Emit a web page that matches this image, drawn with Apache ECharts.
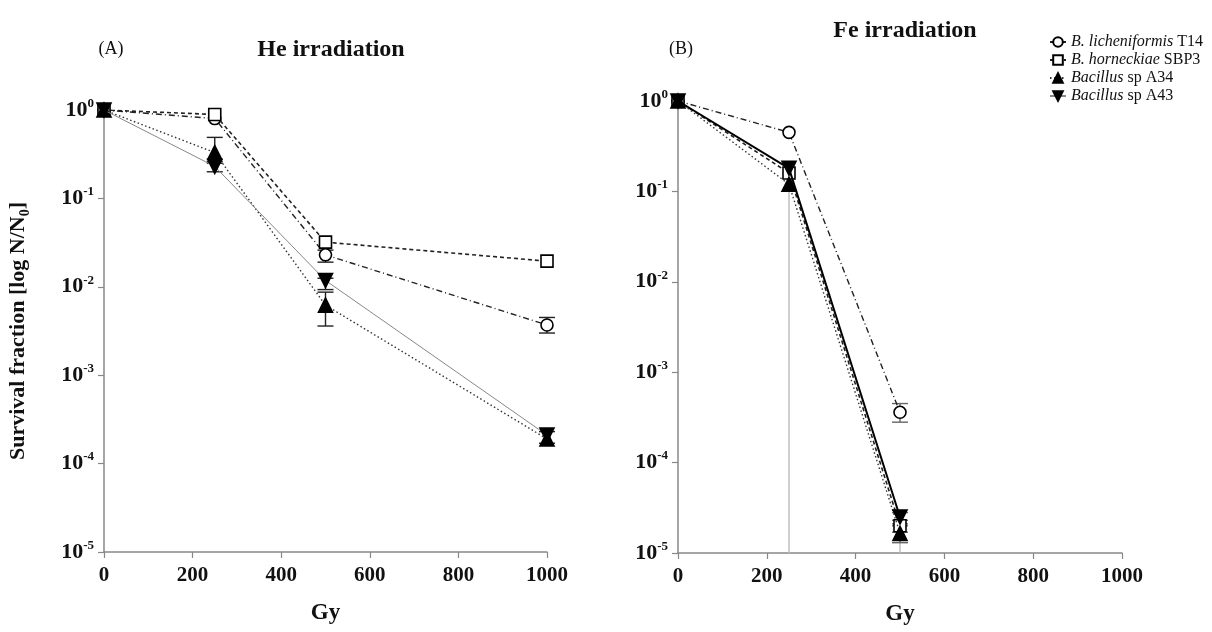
<!DOCTYPE html>
<html>
<head>
<meta charset="utf-8">
<script src="https://cdn.jsdelivr.net/npm/echarts@6/dist/echarts.min.js"></script>
<style>html,body{margin:0;padding:0;background:#fff}#c{width:1212px;height:632px}</style>
</head>
<body>
<div id="c"></div>
<script>
// ---------- data ----------
var names = ['B. licheniformis T14', 'B. horneckiae SBP3', 'Bacillus sp A34', 'Bacillus sp A43'];
var nameItalic = ['B. licheniformis', 'B. horneckiae', 'Bacillus', 'Bacillus'];
var nameRest = [' T14', ' SBP3', ' sp A34', ' sp A43'];
var xTicks = [0, 200, 400, 600, 800, 1000];

var heDose = [0, 250, 500, 1000];
var heT14  = [1.0, 0.80, 0.023, 0.0037];
var heSBP3 = [1.0, 0.89, 0.032, 0.0195];
var heA34  = [1.0, 0.33, 0.0062, 0.00019];
var heA43  = [1.0, 0.23, 0.0118, 0.00021];
// error bars [dose, low, high]
var heErr = [
  [500, 0.019, 0.026], [1000, 0.0030, 0.0045],
  [250, 0.25, 0.49], [500, 0.0036, 0.0087],
  [250, 0.20, 0.26], [500, 0.0093, 0.0125],
  [1000, 0.00017, 0.00023]
];

var feDose = [0, 250, 500];
var feT14  = [1.0, 0.45, 0.00036];
var feSBP3 = [1.0, 0.16, 2.0e-5];
var feA34  = [1.0, 0.12, 1.65e-5];
var feA43  = [1.0, 0.18, 2.5e-5];
var feErr = [
  [500, 0.00028, 0.00045],
  [500, 1.3e-5, 2.0e-5],
  [500, 2.1e-5, 2.8e-5],
  [500, 1.7e-5, 2.3e-5]
];
var feDrop = [[250, 1e-5, 0.12], [500, 1e-5, 1.3e-5]];

// ---------- styles ----------
var SERIF = 'Liberation Serif';
var downTri = 'path://M0,0 L10,0 L5,9 Z';
var styles = [
  {symbol: 'circle', size: 12, fill: '#fff', type: [6, 3, 1, 3], w: 1.4, color: '#222'},
  {symbol: 'rect', size: 12, fill: '#fff', type: [4, 3], w: 1.6, color: '#222'},
  {symbol: 'triangle', size: 14, fill: '#000', type: [1.5, 2.5], w: 1.4, color: '#333'},
  {symbol: downTri, size: 14, fill: '#000', type: 'solid', w: 1, color: '#888'}
];

function pairs(xs, ys) { return xs.map(function (x, i) { return [x, ys[i]]; }); }

function lineSeries(idx, xs, ys, axisIdx, override) {
  var s = styles[idx];
  var o = override || {};
  return {
    name: names[idx], type: 'line', xAxisIndex: axisIdx, yAxisIndex: axisIdx,
    data: pairs(xs, ys), symbol: s.symbol, symbolSize: s.size, z: 3 + idx,
    itemStyle: {color: s.fill, borderColor: '#000', borderWidth: 1.6, opacity: 1},
    lineStyle: {color: o.color || s.color, width: o.w || s.w, type: s.type},
    emphasis: {disabled: true}, animation: false
  };
}

function errSeries(data, axisIdx, color, caps) {
  return {
    type: 'custom', xAxisIndex: axisIdx, yAxisIndex: axisIdx, data: data, z: 2, animation: false,
    renderItem: function (params, api) {
      var x = api.value(0), lo = api.value(1), hi = api.value(2);
      var p1 = api.coord([x, hi]), p2 = api.coord([x, lo]);
      var st = {stroke: color, lineWidth: 1.4};
      var ch = [{type: 'line', shape: {x1: p1[0], y1: p1[1], x2: p2[0], y2: p2[1]}, style: st}];
      if (caps) {
        ch.push({type: 'line', shape: {x1: p1[0] - 8, y1: p1[1], x2: p1[0] + 8, y2: p1[1]}, style: st});
        ch.push({type: 'line', shape: {x1: p2[0] - 8, y1: p2[1], x2: p2[0] + 8, y2: p2[1]}, style: st});
      }
      return {type: 'group', children: ch};
    }
  };
}

var supRich = {
  b: {fontFamily: SERIF, fontSize: 22, fontWeight: 'bold', color: '#111', lineHeight: 26},
  s: {fontFamily: SERIF, fontSize: 13, fontWeight: 'bold', color: '#111', verticalAlign: 'top'}
};
function yLabel(v) {
  var e = Math.round(Math.log(v) / Math.LN10);
  return '{b|10}{s|' + e + '}';
}

function xAxis(gridIdx) {
  return {
    type: 'value', gridIndex: gridIdx, min: 0, max: 1000, interval: 200,
    name: 'Gy', nameLocation: 'middle', nameGap: 50,
    nameTextStyle: {fontFamily: SERIF, fontSize: 23, fontWeight: 'bold', color: '#111'},
    axisLine: {show: true, lineStyle: {color: '#888', width: 1.5}},
    axisTick: {show: true, length: 6, lineStyle: {color: '#888', width: 1.2}},
    axisLabel: {fontFamily: SERIF, fontSize: 21, fontWeight: 'bold', color: '#111', margin: 13,
                formatter: function (v) { return String(v); }},
    splitLine: {show: false}
  };
}
function yAxis(gridIdx, withName) {
  var a = {
    type: 'log', logBase: 10, gridIndex: gridIdx, min: 1e-5, max: 1,
    axisLine: {show: true, onZero: false, lineStyle: {color: '#888', width: 1.5}},
    axisTick: {show: true, length: 6, lineStyle: {color: '#888', width: 1.2}},
    minorTick: {show: false},
    axisLabel: {formatter: yLabel, rich: supRich, margin: 10},
    splitLine: {show: false}
  };
  if (withName) {
    a.name = '{a|Survival fraction [log N/N}{sub|0}{a|]}';
    a.nameLocation = 'middle';
    a.nameGap = 72;
    a.nameRotate = 90;
    a.nameTextStyle = {
      rich: {
        a: {fontFamily: SERIF, fontSize: 22, fontWeight: 'bold', color: '#111', lineHeight: 28},
        sub: {fontFamily: SERIF, fontSize: 14, fontWeight: 'bold', color: '#111', verticalAlign: 'bottom'}
      }
    };
  }
  return a;
}

var chart = echarts.init(document.getElementById('c'), null, {renderer: 'canvas'});
var legendRich = {i: {fontFamily: SERIF, fontSize: 16, fontStyle: 'italic', color: '#111'}};

chart.setOption({
  backgroundColor: '#fff',
  animation: false,
  title: [
    {text: 'He irradiation', left: 326, top: 33, textAlign: 'center',
     textStyle: {fontFamily: SERIF, fontSize: 24, fontWeight: 'bold', color: '#111'}},
    {text: '(A)', left: 106, top: 35, textAlign: 'center',
     textStyle: {fontFamily: SERIF, fontSize: 18, fontWeight: 'normal', color: '#111'}},
    {text: '(B)', left: 676, top: 35, textAlign: 'center',
     textStyle: {fontFamily: SERIF, fontSize: 18, fontWeight: 'normal', color: '#111'}},
    {text: 'Fe irradiation', left: 900, top: 14, textAlign: 'center',
     textStyle: {fontFamily: SERIF, fontSize: 24, fontWeight: 'bold', color: '#111'}}
  ],
  legend: {
    data: names, orient: 'vertical', left: 1044, top: 29, itemGap: 2,
    itemWidth: 16, itemHeight: 12,
    formatter: function (n) {
      var i = names.indexOf(n);
      return '{i|' + nameItalic[i] + '}' + nameRest[i];
    },
    textStyle: {fontFamily: SERIF, fontSize: 16, color: '#111', rich: legendRich}
  },
  grid: [
    {left: 104, right: 665, top: 110, bottom: 80},
    {left: 678, right: 90, top: 101, bottom: 79}
  ],
  xAxis: [xAxis(0), xAxis(1)],
  yAxis: [yAxis(0, true), yAxis(1, false)],
  series: [
    errSeries(heErr, 0, '#222', true),
    lineSeries(3, heDose, heA43, 0),
    lineSeries(2, heDose, heA34, 0),
    lineSeries(0, heDose, heT14, 0),
    lineSeries(1, heDose, heSBP3, 0),
    errSeries(feDrop, 1, '#bbb', false),
    errSeries(feErr, 1, '#666', true),
    lineSeries(3, feDose, feA43, 1, {color: '#000', w: 2}),
    lineSeries(2, feDose, feA34, 1),
    lineSeries(0, feDose, feT14, 1),
    lineSeries(1, feDose, feSBP3, 1)
  ]
});
</script>
</body>
</html>
